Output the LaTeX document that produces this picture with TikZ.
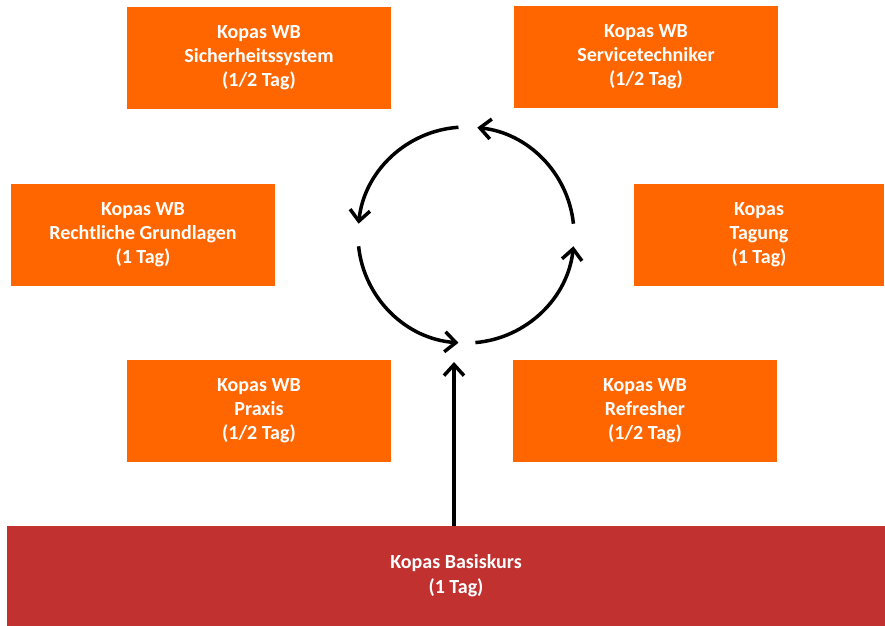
\documentclass[tikz,border=0pt]{standalone}
\usepackage{fontspec}
\setmainfont{Carlito}
\usetikzlibrary{arrows.meta}

\definecolor{wborange}{RGB}{255,102,0}
\definecolor{basisrot}{RGB}{192,49,48}

\tikzset{
  wb/.style={fill=wborange, draw=none, text=white, align=center, font=\fontsize{20}{24}\selectfont\bfseries,
    minimum width=264pt, minimum height=102pt, inner sep=0pt},
  basis/.style={fill=basisrot, draw=none, text=white, align=center, font=\fontsize{20}{25}\selectfont\bfseries,
    minimum width=898pt, minimum height=100pt, inner sep=0pt},
  ring/.style={line width=3.5pt, -{Straight Barb[length=11pt,width=20pt,line width=3.5pt]}},
}

\begin{document}
\begin{tikzpicture}[x=1pt,y=1pt,yscale=-1,xscale=1]
\useasboundingbox (0,0) rectangle (885,625);
\node [wb] (sicher) at (259,58) {Kopas WB\\Sicherheitssystem\\(1/2 Tag)};
\node [wb] (service) at (646,57) {Kopas WB\\Servicetechniker\\(1/2 Tag)};
\node [wb] (recht) at (143,235) {Kopas WB\\Rechtliche Grundlagen\\(1 Tag)};
\node [wb, minimum width=250pt] (tagung) at (759,235) {Kopas\\Tagung\\(1 Tag)};
\node [wb] (praxis) at (259,411) {Kopas WB\\Praxis\\(1/2 Tag)};
\node [wb] (refresh) at (645,411) {Kopas WB\\Refresher\\(1/2 Tag)};
\node [basis] (basis) at (456,576) {Kopas Basiskurs\\(1 Tag)};
\coordinate (mid) at (466,235);
\coordinate (ziel) at (454,362);
\draw [ring] ([shift={(-94:108)}]mid) arc (-94:-174:108);
\draw [ring] ([shift={(-186:108)}]mid) arc (-186:-266:108);
\draw [ring] ([shift={(-275:108)}]mid) arc (-275:-354:108);
\draw [ring] ([shift={(-6:108)}]mid) arc (-6:-84:108);
\draw [ring] (basis.north -| ziel) -- (ziel);
\end{tikzpicture}
\end{document}
